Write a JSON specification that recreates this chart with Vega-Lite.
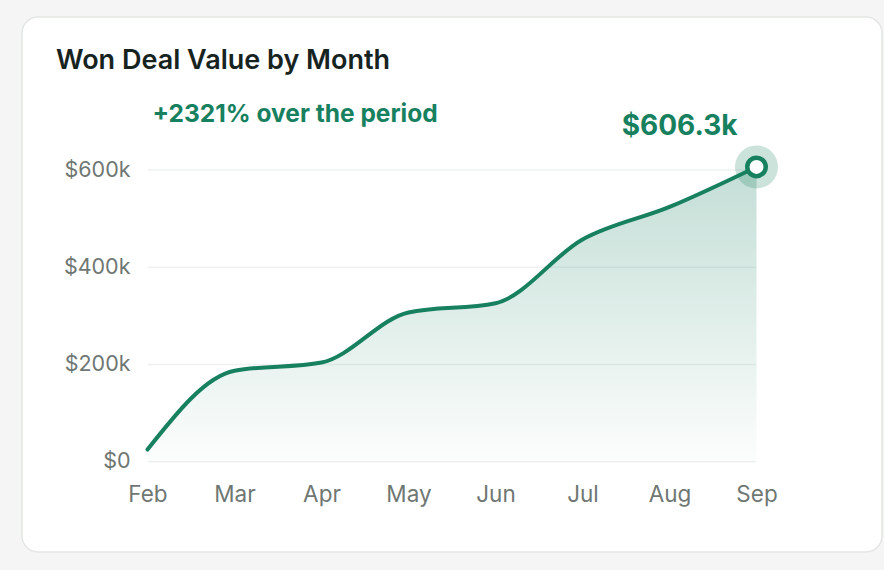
{
  "$schema": "https://vega.github.io/schema/vega-lite/v6.json",
  "width": 860,
  "height": 535,
  "autosize": {"type": "none"},
  "padding": {"left": 22, "top": 17, "right": 2, "bottom": 18},
  "background": "#f4f5f4",
  "config": {
    "font": "Inter",
    "view": {"fill": "#ffffff", "stroke": "#e3e6e4", "strokeWidth": 1.5, "cornerRadius": 16},
    "axis": {
      "labelFont": "Inter",
      "labelFontSize": 21.5,
      "labelColor": "#6f7773",
      "domain": false,
      "ticks": false,
      "tickSize": 0,
      "grid": false,
      "title": null
    }
  },
  "title": {
    "text": "Won Deal Value by Month",
    "anchor": "start",
    "frame": "group",
    "font": "Inter",
    "fontSize": 27,
    "fontWeight": 600,
    "color": "#17231f",
    "baseline": "alphabetic",
    "offset": 0,
    "dx": 34,
    "dy": 79
  },
  "data": {
    "values": [
      {"month": "Feb", "value": 25040},
      {"month": "Mar", "value": 187000},
      {"month": "Apr", "value": 204000},
      {"month": "May", "value": 307000},
      {"month": "Jun", "value": 326000},
      {"month": "Jul", "value": 457000},
      {"month": "Aug", "value": 524000},
      {"month": "Sep", "value": 606300}
    ]
  },
  "encoding": {
    "x": {
      "field": "month",
      "type": "ordinal",
      "sort": null,
      "scale": {"type": "point", "domain": ["Feb", "Mar", "Apr", "May", "Jun", "Jul", "Aug", "Sep"], "padding": 0, "range": [125.5, 734.5]},
      "axis": {"orient": "bottom", "offset": -58, "labelPadding": 0, "labelBaseline": "middle", "labelAngle": 0, "labelFontSize": 22.5}
    }
  },
  "layer": [
    {
      "data": {"values": [{"v": 0, "from": "Feb", "to": "Sep"}, {"v": 200000, "from": "Feb", "to": "Sep"}, {"v": 400000, "from": "Feb", "to": "Sep"}, {"v": 600000, "from": "Feb", "to": "Sep"}]},
      "mark": {"type": "rule", "color": "#eff1f0", "strokeWidth": 1.5},
      "encoding": {
        "x": {"field": "from", "type": "ordinal"},
        "x2": {"field": "to"},
        "y": {
          "field": "v",
          "type": "quantitative",
          "scale": {"domain": [-185700, 914700], "nice": false, "zero": false},
          "axis": {
            "orient": "left",
            "offset": -116,
            "labelPadding": 8,
            "values": [0, 200000, 400000, 600000],
            "labelExpr": "datum.value == 0 ? '$0' : '$' + (datum.value / 1000) + 'k'"
          }
        }
      }
    },
    {
      "mark": {
        "type": "area",
        "interpolate": "monotone",
        "color": {
          "x1": 0, "y1": 0, "x2": 0, "y2": 1,
          "gradient": "linear",
          "stops": [
            {"offset": 0, "color": "rgba(23,127,95,0.26)"},
            {"offset": 1, "color": "rgba(23,127,95,0.01)"}
          ]
        }
      },
      "encoding": {
        "y": {"field": "value", "type": "quantitative"},
        "y2": {"datum": 0}
      }
    },
    {
      "mark": {"type": "line", "interpolate": "monotone", "color": "#17805f", "strokeWidth": 4, "strokeCap": "round"},
      "encoding": {"y": {"field": "value", "type": "quantitative"}}
    },
    {
      "transform": [{"filter": "datum.month == 'Sep'"}],
      "mark": {"type": "point", "filled": true, "shape": "circle", "size": 1850, "color": "#17805f", "opacity": 0.22},
      "encoding": {"y": {"field": "value", "type": "quantitative"}}
    },
    {
      "transform": [{"filter": "datum.month == 'Sep'"}],
      "mark": {"type": "point", "filled": false, "shape": "circle", "size": 340, "fill": "#ffffff", "fillOpacity": 1, "stroke": "#17805f", "strokeWidth": 4.5, "opacity": 1},
      "encoding": {"y": {"field": "value", "type": "quantitative"}}
    },
    {
      "transform": [{"filter": "datum.month == 'Sep'"}],
      "mark": {"type": "text", "font": "Inter", "fontSize": 28, "fontWeight": 700, "color": "#17805f", "align": "right", "baseline": "middle", "dx": -19, "dy": -40},
      "encoding": {
        "y": {"field": "value", "type": "quantitative"},
        "text": {"field": "value", "type": "quantitative", "format": "$.4s"}
      }
    },
    {
      "data": {"values": [{"label": "+2321% over the period", "month": "Feb"}]},
      "mark": {"type": "text", "font": "Inter", "fontSize": 24.5, "fontWeight": 700, "color": "#17805f", "align": "left", "baseline": "middle", "dx": 5},
      "encoding": {
        "y": {"datum": 714000},
        "text": {"field": "label", "type": "nominal"}
      }
    }
  ]
}
